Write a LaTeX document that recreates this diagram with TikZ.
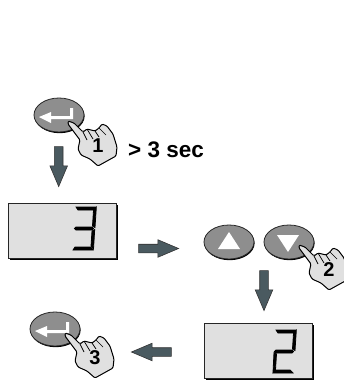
\documentclass[tikz,border=0pt]{standalone}
\usepackage{fontspec}
\setmainfont{Liberation Sans}
\usetikzlibrary{shapes.geometric, shapes.arrows, shadows}
\definecolor{keygray}{HTML}{8E8E8E}
\definecolor{panelgray}{HTML}{E0E0E0}
\definecolor{arrowslate}{HTML}{4A5A60}
% seven segment bars, local size about 23 x 43
\newcommand{\segtop}{\filldraw (3,0) -- (23,0) -- (20,3) -- (5,3) -- cycle;}
\newcommand{\segur}{\filldraw (23.3,.5) -- (22,20.5) -- (19.5,19) -- (20.5,3.5) -- cycle;}
\newcommand{\segmid}{\filldraw (3,20) -- (19,20) -- (20.5,21.5) -- (19,23) -- (3,23) -- (1.5,21.5) -- cycle;}
\newcommand{\seglr}{\filldraw (21.7,22.5) -- (20.5,42) -- (18,39.5) -- (19,24) -- cycle;}
\newcommand{\segll}{\filldraw (1,22.5) -- (3.5,24) -- (2.5,39.5) -- (0,42.5) -- cycle;}
\newcommand{\segbot}{\filldraw (0,43) -- (2,40) -- (17,40) -- (20,43) -- cycle;}
\tikzset{
    keybtn/.style={ellipse, draw=black!85, line width=.8pt, fill=keygray, minimum width=50pt, minimum height=34pt, inner sep=0pt, general shadow={fill=black, shadow xshift=.6pt, shadow yshift=-1.2pt}},
    panel/.style={rectangle, draw=black!85, line width=.7pt, fill=panelgray, minimum width=108pt, minimum height=55pt, inner sep=0pt, general shadow={fill=black, shadow xshift=1.8pt, shadow yshift=-1.8pt}},
    blockarrow/.style={single arrow, draw=black!80, line width=.6pt, fill=arrowslate, minimum height=40pt, minimum width=17pt, single arrow head extend=4.5pt, single arrow tip angle=46, inner sep=4pt},
    boldlabel/.style={font=\fontsize{20}{20}\selectfont\bfseries, inner sep=0pt},
    timelabel/.style={font=\fontsize{22.5}{22.5}\selectfont\bfseries, inner sep=0pt},
    enterkey/.pic={
        \fill[white] (14,-7) -- (14,4) -- (-8,4) -- (-8,8) -- (-20,2) -- (-8,-3) -- (-8,1) -- (11,1) -- (11,-7) -- cycle;
    },
    hand/.pic={
        \draw[fill=panelgray, line width=1pt, rounded corners=1.2pt] (0,0) -- (6,2) -- (15,11) -- (19,8) -- (23,9) -- (27,10) -- (31,7) -- (34,3) -- (39,5) -- (45,13) -- (49,26) -- (48,35) -- (30,45) -- (22,38) -- (13,34) -- (10,28) -- (12,19) -- (0,3) -- cycle;
        \draw[line width=.7pt] (15,11) -- (19,19) (19,8) -- (25,18) (27,10) -- (31,16) (31,7) -- (38,14);
        \node[boldlabel] (-num) at (30,25) {\tikzpictext};
    },
    three/.pic={\segtop \segur \segmid \seglr \segbot},
    two/.pic={\segtop \segur \segmid \segll \segbot}
}

\begin{document}
\begin{tikzpicture}[x=1pt,y=-1pt]
    \useasboundingbox (0,0) rectangle (343,383);

    % top enter key
    \node[keybtn] (enterA) at (59,115) {};
    \pic at (59,115) {enterkey};
    \pic[pic text=1] (handA) at (68,121) {hand};
    \node[timelabel, anchor=west] (timeout) at (128,150) {> 3 sec};
    \node[blockarrow, rotate=-90] (downA) at (58.7,161.5) {};

    % display 3
    \node[panel] (dispA) at (62.5,230.5) {};
    \pic[line width=.8pt] at (73,207) {three};
    \node[blockarrow] (rightA) at (153.5,248.5) {};

    % up and down keys
    \node[keybtn] (keyUp) at (229,242) {};
    \node[keybtn] (keyDown) at (289,242) {};
    \fill[white] (229,232) -- (240,249) -- (218,249) -- cycle;
    \fill[white] (277,235) -- (299,235) -- (288,252) -- cycle;
    \pic[pic text=2] (handB) at (299,245) {hand};
    \node[blockarrow, rotate=-90] (downB) at (264,285.5) {};

    % display 2
    \node[panel] (dispB) at (258.5,351) {};
    \pic[line width=.8pt] at (273,330) {two};
    \node[blockarrow, rotate=180] (leftA) at (156.5,352) {};

    % bottom enter key
    \node[keybtn] (enterB) at (55,329) {};
    \pic at (55,329) {enterkey};
    \pic[pic text=3] (handC) at (65,333) {hand};
\end{tikzpicture}
\end{document}
